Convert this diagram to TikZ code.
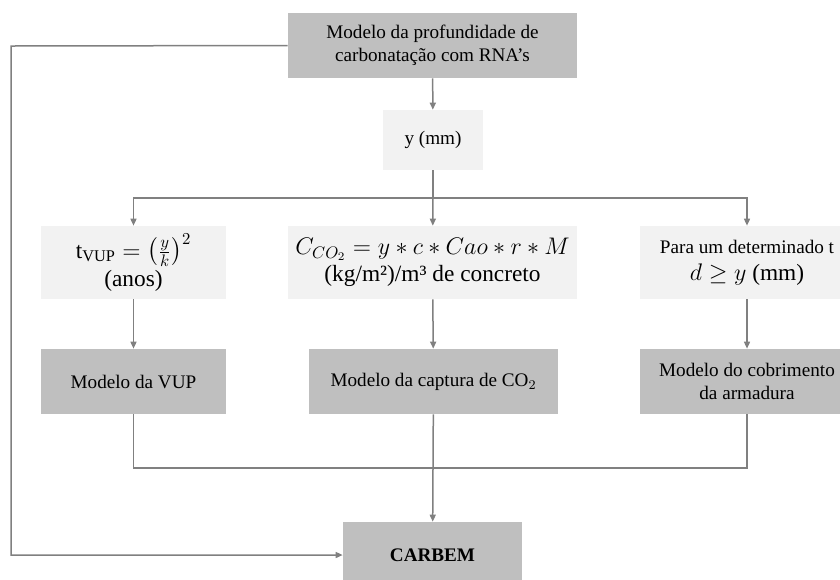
\documentclass[tikz,border=0pt]{standalone}
\usepackage{amsmath,amssymb}
\usepackage{fontspec}
\setmainfont{Liberation Serif}
\newfontfamily\formfont[Scale=1.2174]{Liberation Serif}
\newcommand{\formula}[1]{{\fontsize{14}{16}\selectfont$#1$}}
\usetikzlibrary{arrows.meta,positioning,calc}
\definecolor{boxdark}{HTML}{BFBFBF}
\definecolor{boxlight}{HTML}{F2F2F2}
\definecolor{wire}{HTML}{808080}
\tikzset{
  model/.style={rectangle, fill=boxdark, inner sep=2pt, align=center, minimum height=39pt, font=\fontsize{11.5}{13.8}\selectfont},
  calc/.style={rectangle, fill=boxlight, inner sep=2pt, align=center, minimum height=43.8pt, font=\fontsize{11.5}{16}\formfont},
  line/.style={draw=wire, line width=0.9pt},
  link/.style={line, -{Triangle[length=4.2pt, width=3.6pt]}},
}
\begin{document}
\begin{tikzpicture}[x=0.6pt, y=-0.6pt]
  \useasboundingbox (0,0) rectangle (840,579);
  % top model and its output
  \node[model, minimum width=173.4pt] (modelo) at (432.5,45.5) {Modelo da profundidade de\\ carbonatação com RNA’s};
  \node[calc, minimum width=60pt, minimum height=36pt, font=\fontsize{11.5}{13.8}\selectfont] (ymm) at (433,140) {y (mm)};
  % the three calculations
  \node[calc, minimum width=111pt] (tvup) at (133.5,262.5) {\formula{\mathrm{t}_{\mathrm{VUP}} = \left(\frac{y}{k}\right)^{2}}\\[1pt] (anos)};
  \node[calc, minimum width=173.4pt] (cco2) at (432.5,262.5) {\formula{C_{CO_2} = y * c * Cao * r * M}\\ (kg/m²)/m³ de concreto};
  \node[calc, minimum width=128.4pt] (dform) at (747,262.5) {{\rmfamily Para um determinado t}\\ \formula{d \geq y} (mm)};
  % the three models
  \node[model, minimum width=111pt] (mvup) at (133.5,381.5) {Modelo da VUP};
  \node[model, minimum width=149.4pt] (mcap) at (433.5,381.5) {Modelo da captura de CO$_2$};
  \node[model, minimum width=128.4pt] (mcob) at (747,381.5) {Modelo do cobrimento\\ da armadura};
  \node[model, minimum width=107.4pt, minimum height=39.6pt, font=\fontsize{11.5}{13.8}\selectfont\bfseries] (carbem) at (432.5,555) {CARBEM};

  \coordinate (split) at (433,198);
  \coordinate (merge) at (433,468);
  \coordinate (loop) at (11,46);

  \draw[link] (modelo) -- (ymm);
  \draw[line] (ymm) -- (split);
  \draw[link] (split) -| (tvup.north);
  \draw[link] (split) -- (cco2);
  \draw[link] (split) -| (dform.north);
  \draw[link] (tvup) -- (mvup);
  \draw[link] (cco2) -- (mcap);
  \draw[link] (dform) -- (mcob);
  \draw[line] (mvup.south) |- (merge);
  \draw[line] (mcob.south) |- (merge);
  \draw[link] (mcap) -- (carbem);
  \draw[link] (modelo.west) -- (loop) |- (carbem.west);
\end{tikzpicture}
\end{document}
